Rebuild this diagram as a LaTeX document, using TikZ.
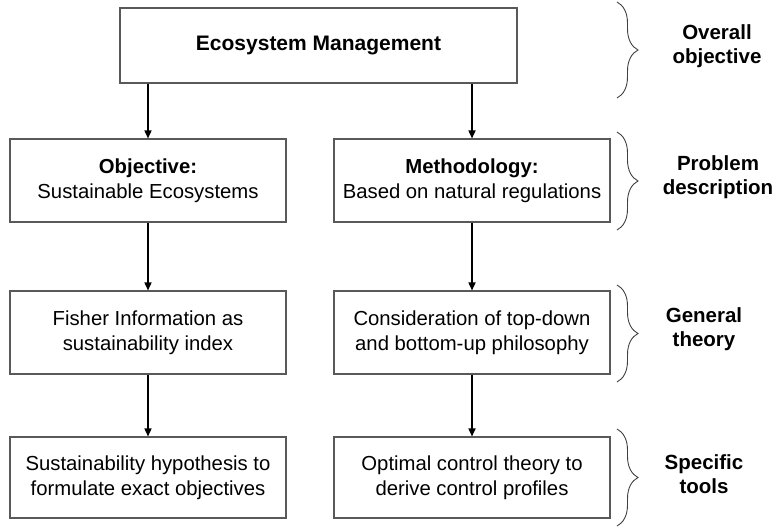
\documentclass[tikz,border=0pt]{standalone}
\usepackage{fontspec}
\setmainfont{Liberation Sans}
\usetikzlibrary{arrows.meta,decorations.pathreplacing}
\begin{document}
\begin{tikzpicture}[x=1pt,y=-1pt,
  box/.style={draw=black!65,line width=1.1pt,fill=white,align=center,
    inner sep=0pt,font=\fontsize{20.3}{24.5}\selectfont},
  flow/.style={line width=1.6pt,-{Triangle[length=8pt,width=7pt]}},
  bracket/.style={draw=black!75,line width=0.9pt,
    decorate,decoration={brace,amplitude=21pt,aspect=0.5}},
  level/.style={align=center,inner sep=0pt,
    font=\fontsize{20.5}{23.5}\selectfont\bfseries}]
  \useasboundingbox (0,0) rectangle (775,527);

  % boxes
  \node[box,minimum width=397pt,minimum height=75pt,
    font=\fontsize{21}{25}\selectfont] (top) at (318.5,45.5)
    {\textbf{Ecosystem Management}};
  \node[box,minimum width=276pt,minimum height=83pt] (obj) at (148,180.5)
    {\textbf{Objective:}\\Sustainable Ecosystems};
  \node[box,minimum width=276pt,minimum height=83pt] (meth) at (472,180.5)
    {\textbf{Methodology:}\\Based on natural regulations};
  \node[box,minimum width=276pt,minimum height=83pt] (fisher) at (148,332.5)
    {Fisher Information as\\sustainability index};
  \node[box,minimum width=276pt,minimum height=83pt] (phil) at (472,332.5)
    {Consideration of top-down\\and bottom-up philosophy};
  \node[box,minimum width=276pt,minimum height=81pt] (hyp) at (148,477.5)
    {Sustainability hypothesis to\\formulate exact objectives};
  \node[box,minimum width=276pt,minimum height=81pt] (ctrl) at (472,477.5)
    {Optimal control theory to\\derive control profiles};

  % arrows
  \draw[flow] (top.south -| obj.north) -- (obj.north);
  \draw[flow] (top.south -| meth.north) -- (meth.north);
  \draw[flow] (obj) -- (fisher);
  \draw[flow] (meth) -- (phil);
  \draw[flow] (fisher) -- (hyp);
  \draw[flow] (phil) -- (ctrl);

  % braces
  \coordinate (b1a) at (617,2);   \coordinate (b1b) at (617,98);
  \coordinate (b2a) at (617,132); \coordinate (b2b) at (617,230);
  \coordinate (b3a) at (617,285); \coordinate (b3b) at (617,382);
  \coordinate (b4a) at (617,429); \coordinate (b4b) at (617,526);
  \draw[bracket] (b1a) -- (b1b);
  \draw[bracket] (b2a) -- (b2b);
  \draw[bracket] (b3a) -- (b3b);
  \draw[bracket] (b4a) -- (b4b);

  % level labels
  \node[level] (l1) at (717,46) {Overall\\objective};
  \node[level] (l2) at (718,177) {Problem\\description};
  \node[level] (l3) at (704,329) {General\\theory};
  \node[level] (l4) at (704,474) {Specific\\tools};
\end{tikzpicture}
\end{document}
